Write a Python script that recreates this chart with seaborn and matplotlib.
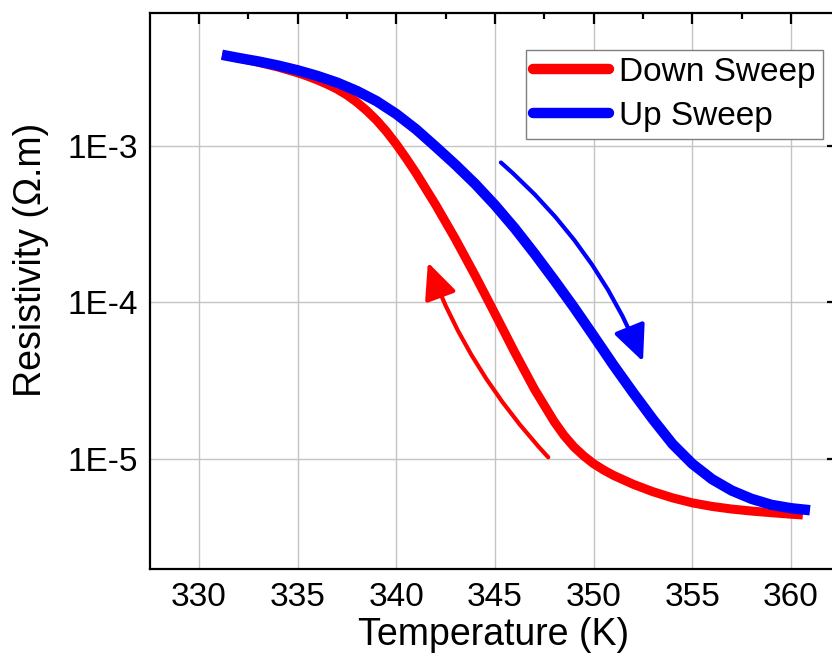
import numpy as np
import pandas as pd
import matplotlib
matplotlib.use("Agg")
import matplotlib.pyplot as plt
import seaborn as sns
from matplotlib.ticker import FixedLocator, FixedFormatter, LogLocator, NullFormatter, MultipleLocator

# ---- data ----
temp_down = [331.17, 332, 333, 334, 335, 335.5, 336, 336.5, 337, 337.5, 338, 338.5, 339,
             339.5, 340, 340.5, 341, 342, 343, 344, 345, 346, 347, 348, 348.5, 349, 349.5,
             350, 350.5, 351, 352, 353, 354, 355, 356, 357, 358, 359, 360, 360.6]
rho_down = [3.79e-3, 3.62e-3, 3.40e-3, 3.17e-3, 2.91e-3, 2.77e-3, 2.62e-3, 2.46e-3, 2.29e-3,
            2.10e-3, 1.89e-3, 1.67e-3, 1.45e-3, 1.23e-3, 1.02e-3, 8.30e-4, 6.68e-4, 4.18e-4,
            2.53e-4, 1.48e-4, 8.47e-5, 4.81e-5, 2.80e-5, 1.74e-5, 1.42e-5, 1.20e-5, 1.05e-5,
            9.37e-6, 8.56e-6, 7.91e-6, 6.94e-6, 6.22e-6, 5.68e-6, 5.28e-6, 5.01e-6, 4.82e-6,
            4.68e-6, 4.57e-6, 4.47e-6, 4.42e-6]

temp_up = [331.17, 332, 333, 334, 335, 336, 337, 338, 339, 340, 341, 342, 343, 344, 345,
           346, 347, 348, 349, 350, 351, 352, 353, 354, 355, 356, 357, 358, 359, 360, 360.96]
rho_up = [3.79e-3, 3.62e-3, 3.44e-3, 3.24e-3, 3.02e-3, 2.78e-3, 2.52e-3, 2.23e-3, 1.92e-3,
          1.59e-3, 1.27e-3, 9.82e-4, 7.54e-4, 5.69e-4, 4.17e-4, 2.97e-4, 2.05e-4, 1.39e-4,
          9.31e-5, 6.11e-5, 3.99e-5, 2.66e-5, 1.80e-5, 1.25e-5, 9.36e-6, 7.47e-6, 6.32e-6,
          5.60e-6, 5.13e-6, 4.88e-6, 4.74e-6]

series_names = ["Down Sweep", "Up Sweep"]
series_colors = ["#ff0000", "#0000ff"]

x_ticks = [330, 335, 340, 345, 350, 355, 360]
x_tick_labels = ["330", "335", "340", "345", "350", "355", "360"]
y_ticks = [1e-5, 1e-4, 1e-3]
y_tick_labels = ["1E-5", "1E-4", "1E-3"]

# arrows: (start T, start rho) -> (end T, end rho)
arrow_up_start = (345.3, 7.8e-4)
arrow_up_end = (352.5, 4.2e-5)
arrow_down_start = (347.7, 1.03e-5)
arrow_down_end = (341.6, 1.8e-4)

df = pd.concat([
    pd.DataFrame({"T": temp_down, "rho": rho_down, "sweep": series_names[0]}),
    pd.DataFrame({"T": temp_up, "rho": rho_up, "sweep": series_names[1]}),
], ignore_index=True)

sns.set_theme(style="white")
plt.rcParams["font.family"] = ["Liberation Sans", "DejaVu Sans"]
plt.rcParams["text.color"] = "black"
plt.rcParams["axes.labelcolor"] = "black"
plt.rcParams["xtick.color"] = "black"
plt.rcParams["ytick.color"] = "black"

fig = plt.figure(figsize=(8.32, 6.71), dpi=100)
ax = fig.add_axes([150 / 832, 1 - 569 / 671, (838 - 150) / 832, (569 - 13) / 671])

lws = [6.5, 7.5]
for name, color, lw in zip(series_names, series_colors, lws):
    sub = df[df["sweep"] == name]
    sns.lineplot(data=sub, x="T", y="rho", ax=ax, color=color, lw=lw, sort=False,
                 label=name, solid_capstyle="butt", solid_joinstyle="round", estimator=None)

ax.set_yscale("log")
ax.set_xlim(327.52, 362.38)
ax.set_ylim(2.0e-6, 7.0e-3)

ax.xaxis.set_major_locator(FixedLocator(x_ticks))
ax.xaxis.set_major_formatter(FixedFormatter(x_tick_labels))
ax.xaxis.set_minor_locator(MultipleLocator(2.5))
ax.yaxis.set_major_locator(FixedLocator(y_ticks))
ax.yaxis.set_major_formatter(FixedFormatter(y_tick_labels))
ax.yaxis.set_minor_locator(LogLocator(base=10, subs=np.arange(2, 10)))
ax.yaxis.set_minor_formatter(NullFormatter())

ax.grid(True, which="major", color="#c4c4c4", lw=1.0)
ax.set_axisbelow(True)

for s in ax.spines.values():
    s.set_visible(True)
    s.set_color("black")
    s.set_linewidth(1.6)

ax.tick_params(which="both", direction="in", top=True, right=True, color="black", width=1.6)
ax.tick_params(which="major", length=8, labelsize=24, pad=9, labelcolor="black")
ax.tick_params(which="minor", length=4.5)

ax.set_xlabel("Temperature (K)", fontsize=27, labelpad=3, color="black")
ax.set_ylabel("Resistivity (\u03a9.m)", fontsize=27, color="black")
ax.yaxis.set_label_coords(-0.147, 0.556)

leg = ax.legend(loc="upper right", bbox_to_anchor=(0.9775, 0.9335), fontsize=24,
                frameon=True, fancybox=False, framealpha=1, edgecolor="#7f7f7f",
                handlelength=2.3, handletextpad=0.3, borderpad=0.2, labelspacing=0.4,
                borderaxespad=0)
leg.get_frame().set_linewidth(1.0)
for t in leg.get_texts():
    t.set_color("black")
for h in leg.get_lines():
    h.set_linewidth(7.5)
    h.set_solid_capstyle("round")

ax.annotate("", xy=arrow_up_end, xytext=arrow_up_start,
            arrowprops=dict(arrowstyle="-|>,head_length=1.1,head_width=0.5",
                            mutation_scale=20, color=series_colors[1], lw=3,
                            connectionstyle="arc3,rad=-0.12", shrinkA=0, shrinkB=0))
ax.annotate("", xy=arrow_down_end, xytext=arrow_down_start,
            arrowprops=dict(arrowstyle="-|>,head_length=1.1,head_width=0.5",
                            mutation_scale=20, color=series_colors[0], lw=3,
                            connectionstyle="arc3,rad=-0.1", shrinkA=0, shrinkB=0))

fig.savefig("out.png", dpi=100)
